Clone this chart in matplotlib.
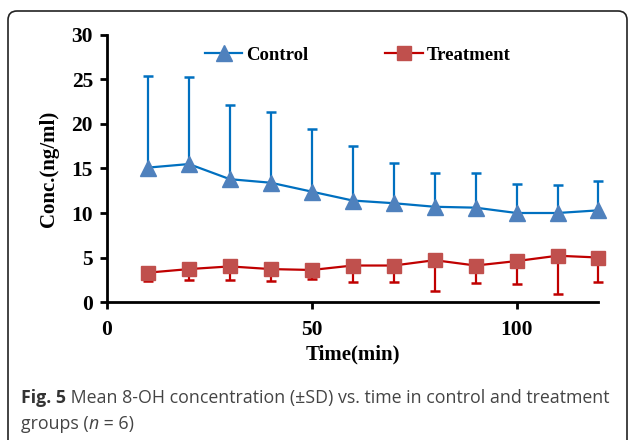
import matplotlib
matplotlib.use("Agg")
import matplotlib.pyplot as plt
from matplotlib.patches import FancyBboxPatch
from matplotlib.transforms import IdentityTransform

# values (mean, SD) at each time point
time_min = [10, 20, 30, 40, 50, 60, 70, 80, 90, 100, 110, 120]
control_mean = [15.1, 15.5, 13.8, 13.4, 12.4, 11.4, 11.1, 10.7, 10.6, 10.0, 10.0, 10.3]
control_sd = [10.3, 9.8, 8.3, 8.0, 7.0, 6.1, 4.5, 3.8, 3.9, 3.3, 3.2, 3.3]
treat_mean = [3.3, 3.7, 4.0, 3.7, 3.6, 4.1, 4.1, 4.7, 4.1, 4.6, 5.2, 5.0]
treat_sd = [0.9, 1.2, 1.5, 1.3, 1.0, 1.8, 1.8, 3.5, 2.0, 2.6, 4.3, 2.8]

x_ticks = [0, 50, 100]
y_ticks = [0, 5, 10, 15, 20, 25, 30]

serif = 'Liberation Serif'
blue_line, blue_mark = '#0070C0', '#4F81BD'
red_line, red_mark = '#C00000', '#C0504D'

fig = plt.figure(figsize=(6.29, 4.40), dpi=100)
ax = fig.add_axes([0.1701, 0.3136, 0.9515 - 0.1701, 0.9205 - 0.3136])

# one-sided error bars: control up, treatment down
c_top = [m + s for m, s in zip(control_mean, control_sd)]
t_bot = [m - s for m, s in zip(treat_mean, treat_sd)]
ax.vlines(time_min, control_mean, c_top, color=blue_line, lw=1.6, zorder=2, clip_on=False)
ax.plot(time_min, c_top, ls='none', marker='_', ms=7, mew=1.8, color=blue_line,
        zorder=2, clip_on=False)
ax.vlines(time_min, t_bot, treat_mean, color=red_line, lw=1.6, zorder=2, clip_on=False)
ax.plot(time_min, t_bot, ls='none', marker='_', ms=7, mew=1.8, color=red_line,
        zorder=2, clip_on=False)

ax.plot(time_min, control_mean, color=blue_line, lw=1.6, marker='^', ms=12,
        mfc=blue_mark, mec=blue_mark, label='Control', zorder=3, clip_on=False)
ax.plot(time_min, treat_mean, color=red_line, lw=1.6, marker='s', ms=10,
        mfc=red_mark, mec=red_mark, label='Treatment', zorder=3, clip_on=False)

ax.set_xlim(0, 120)
ax.set_ylim(0, 30)
ax.set_xticks(x_ticks)
ax.set_yticks(y_ticks)
for side in ['top', 'right']:
    ax.spines[side].set_visible(False)
for side in ['left', 'bottom']:
    ax.spines[side].set_linewidth(2)
ax.tick_params(axis='both', width=2, length=5, direction='out')
ax.tick_params(axis='y', pad=5)
ax.tick_params(axis='x', pad=8)
for lab in ax.get_xticklabels() + ax.get_yticklabels():
    lab.set_fontfamily(serif)
    lab.set_fontweight('bold')
    lab.set_fontsize(15.5)

ax.set_xlabel('Time(min)', fontfamily=serif, fontweight='bold', fontsize=15, labelpad=3)
ax.set_ylabel('Conc.(ng/ml)', fontfamily=serif, fontweight='bold', fontsize=15, labelpad=9)

ax.legend(loc='center', bbox_to_anchor=(0.51, 0.925), ncol=2, frameon=False,
          prop={'family': serif, 'weight': 'bold', 'size': 13.5},
          handlelength=2.0, handletextpad=0.2, columnspacing=4.1)

# caption with rounded frame
frame = FancyBboxPatch((8, -60), 619, 489, boxstyle='round,pad=0,rounding_size=9',
                       transform=IdentityTransform(), fill=False, ec='#222222', lw=1.2)
fig.patches.append(frame)

cap_col = '#444444'
cap_size = 12.8
renderer = fig.canvas.get_renderer()


def caption_line(pieces, y):
    # pieces of (text, weight, style, color) placed one after another
    x = 21
    for txt, weight, style, col in pieces:
        t = fig.text(x / 629, y, txt, fontfamily='Open Sans', fontsize=cap_size,
                     fontweight=weight, fontstyle=style, color=col)
        x += t.get_window_extent(renderer).width


caption_line([('Fig. 5', 'bold', 'normal', '#333333'),
              (' Mean 8-OH concentration (±SD) vs. time in control and treatment',
               'normal', 'normal', cap_col)], 1 - 403 / 440)
caption_line([('groups (', 'normal', 'normal', cap_col),
              ('n', 'normal', 'italic', cap_col),
              (' = 6)', 'normal', 'normal', cap_col)], 1 - 429 / 440)

fig.savefig('out.png', dpi=100)
